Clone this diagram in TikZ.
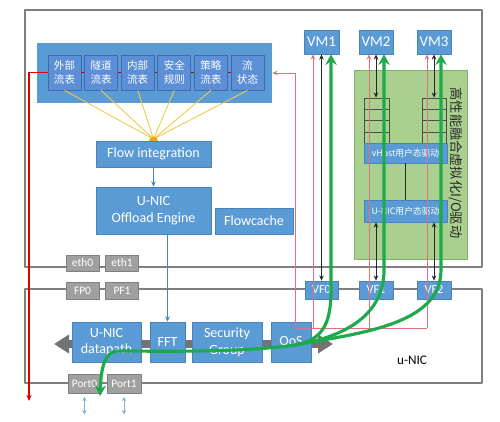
\documentclass[tikz,border=0pt]{standalone}
\usepackage{fontspec}
\setmainfont{Carlito}
\newfontfamily\cjk{Noto Sans CJK SC}
\usetikzlibrary{arrows.meta}
\definecolor{boxblue}{HTML}{5B9BD5}
\definecolor{boxedge}{HTML}{4A82BC}
\definecolor{tblblue}{HTML}{5C8FD6}
\definecolor{tbledge}{HTML}{3D6CAE}
\definecolor{grybox}{HTML}{A0A0A0}
\definecolor{gryedge}{HTML}{808080}
\definecolor{framegray}{HTML}{7F7F7F}
\definecolor{pinkline}{HTML}{E0707F}
\definecolor{darkred}{HTML}{C00000}
\definecolor{brightred}{HTML}{E00000}
\definecolor{flowgreen}{HTML}{1DAA4C}
\definecolor{vgreen}{HTML}{A9D08E}
\definecolor{vgreenedge}{HTML}{82B062}
\definecolor{raycol}{HTML}{F2C84B}
\definecolor{blobcol}{HTML}{F0A22A}
\begin{document}
\begin{tikzpicture}[x=0.02cm,y=-0.02cm,>=Stealth, line join=round,
		font=\fontsize{8}{9.5}\selectfont,
		blk/.style={draw=boxedge, fill=boxblue, text=white, inner sep=0pt, align=center},
		tbl/.style={draw=tbledge, fill=tblblue, text=white, inner sep=0pt, align=center,
			minimum width=33*0.02cm, minimum height=35*0.02cm, font=\cjk\fontsize{6}{7.6}\selectfont},
		gry/.style={draw=gryedge, fill=grybox, text=white, inner sep=0pt, minimum width=33*0.02cm,
			font=\fontsize{6.5}{7}\selectfont},
		drv/.style={blk, minimum width=83*0.02cm, font=\cjk\fontsize{5}{6}\selectfont},
		queue/.style={draw=black!70, fill=vgreen, line width=0.4pt, inner sep=0pt},
		frame/.style={draw=framegray, line width=0.6pt},
		pink/.style={draw=pinkline, line width=0.5pt},
		blkarr/.style={draw=black!85, line width=0.5pt, {Stealth[length=3pt,width=2.6pt]}-{Stealth[length=3pt,width=2.6pt]}},
		thin/.style={draw=boxedge, line width=0.5pt, -{Stealth[length=3pt,width=2.6pt]}},
		flow/.style={draw=flowgreen, line width=1.8pt, line cap=round}
	]
	\useasboundingbox (0,0) rectangle (500,422);
	% host and u-NIC frames
	\draw[frame] (25,10) rectangle (482,267);
	\draw[frame] (25,289) rectangle (482,383);
	% pipeline arrow behind the boxes
	\coordinate (dl) at (54,344); \coordinate (dr) at (333,344);
	\draw[draw=black!55, line width=8*0.02cm, {Triangle[length=15*0.02cm,width=18*0.02cm]}-{Triangle[length=15*0.02cm,width=18*0.02cm]}] (dl) -- (dr);
	% flow tables
	\node[fill=boxblue, minimum width=235*0.02cm, minimum height=60*0.02cm] (tab) at (154.5,73) {};
	\foreach \i/\txt in {1/外部\\流表, 2/隧道\\流表, 3/内部\\流表, 4/安全\\规则, 5/策略\\流表, 6/流\\状态}
		\node[tbl] (t\i) at ({64.5+36.6*(\i-1)},72.5) {\txt};
	\foreach \i in {1,...,5}{
		\pgfmathtruncatemacro\j{\i+1}
		\draw[darkred, line width=0.6pt] (t\i) -- (t\j);
	}
	\coordinate (conv) at (153.5,139);
	\foreach \i in {1,...,6}
		\draw[raycol, line width=0.5pt] (t\i.south) -- (conv);
	\fill[blobcol] (153.5,141) circle (0.09cm);
	\node[blk, minimum width=115*0.02cm, minimum height=26*0.02cm] (fi) at (153.5,154) {Flow integration};
	\node[blk, minimum width=115*0.02cm, minimum height=47*0.02cm] (oe) at (153.5,210.5) {U-NIC\\Offload Engine};
	\node[blk, minimum width=78*0.02cm, minimum height=26*0.02cm] (fc) at (254,221) {Flowcache};
	% ports
	\node[gry, minimum height=16*0.02cm] (eth0) at (82.5,263) {eth0};
	\node[gry, minimum height=16*0.02cm] (eth1) at (122,263) {eth1};
	\node[gry, minimum height=17*0.02cm] (fp0) at (82.5,290.5) {FP0};
	\node[gry, minimum height=17*0.02cm] (pf1) at (122,290.5) {PF1};
	\node[gry, minimum height=19*0.02cm] (port0) at (84.5,383.5) {Port0};
	\node[gry, minimum height=19*0.02cm, minimum width=34*0.02cm] (port1) at (124,383.5) {Port1};
	\foreach \p in {port0,port1}
		\draw[draw=boxblue!80, line width=0.5pt, {Stealth[length=2.5pt,width=2.5pt]}-{Stealth[length=2.5pt,width=2.5pt]}]
			([yshift=-0.07cm]\p.south) -- ([yshift=-0.42cm]\p.south);
	% u-NIC pipeline
	\node[blk, minimum width=69*0.02cm, minimum height=40*0.02cm] (dp) at (106.5,342) {U-NIC\\datapath};
	\node[blk, minimum width=35*0.02cm, minimum height=40*0.02cm] (fft) at (167.5,342) {FFT};
	\node[blk, minimum width=70*0.02cm, minimum height=40*0.02cm] (sg) at (227,342) {Security\\Group};
	\node[blk, minimum width=40*0.02cm, minimum height=40*0.02cm] (qos) at (291,342) {QoS};
	\draw[thin] (fi) -- (oe);
	\draw[thin] (fft.north |- oe.south) -- (fft.north);
	\node[font=\fontsize{7.5}{9}\selectfont] (unic) at (412,360) {u-NIC};
	% VMs and VFs
	\node[blk, minimum width=35*0.02cm, minimum height=24*0.02cm, font=\fontsize{8.5}{10}\selectfont] (vm1) at (321.5,42) {VM1};
	\node[blk, minimum width=34*0.02cm, minimum height=24*0.02cm, font=\fontsize{8.5}{10}\selectfont] (vm2) at (376,42) {VM2};
	\node[blk, minimum width=34*0.02cm, minimum height=24*0.02cm, font=\fontsize{8.5}{10}\selectfont] (vm3) at (434,42) {VM3};
	\node[blk, minimum width=33*0.02cm, minimum height=18*0.02cm, font=\fontsize{7}{8}\selectfont] (vf0) at (321.5,290) {VF0};
	\node[blk, minimum width=34*0.02cm, minimum height=18*0.02cm, font=\fontsize{7}{8}\selectfont] (vf1) at (376,290) {VF1};
	\node[blk, minimum width=34*0.02cm, minimum height=18*0.02cm, font=\fontsize{7}{8}\selectfont] (vf2) at (434,290) {VF2};
	% virtual I/O driver
	\node[draw=vgreenedge, fill=vgreen, minimum width=113*0.02cm, minimum height=189*0.02cm] (vio) at (410.5,164.5) {};
	\node[rotate=-90, font=\cjk\fontsize{7.5}{9}\selectfont, text=black!85] (viotxt) at (456,163) {高性能融合虚拟化I/O驱动};
	\node[queue, minimum width=25*0.02cm, minimum height=45*0.02cm] (q1) at (376.5,120.5) {};
	\node[queue, minimum width=24*0.02cm, minimum height=45*0.02cm] (q2) at (434,120.5) {};
	\foreach \r in {109,120,132}{
		\draw[black!70, line width=0.4pt] (364,\r) -- (389,\r);
		\draw[black!70, line width=0.4pt] (422,\r) -- (446,\r);
	}
	\node[drv, minimum height=20*0.02cm] (vhost) at (405.5,153) {vHost用户态驱动};
	\node[drv, minimum height=22*0.02cm] (udrv) at (405.5,211) {U-NIC用户态驱动};
	\draw[black!85, line width=0.5pt] (vhost) -- (udrv);
	% red control lines
	\coordinate (b0) at (295,328); \coordinate (b1) at (313,328);
	\coordinate (b2) at (369,328); \coordinate (b3) at (427,328);
	\draw[pink] (b0) -- (b3);
	\draw[pink, -{Stealth[length=3pt,width=2.6pt]}] (b0) -- (b0 |- tab.east) -- (tab.east);
	\foreach \b/\v in {b1/vm1, b2/vm2, b3/vm3}
		\draw[pink, -{Stealth[length=3pt,width=2.6pt]}] (\b) -- (\b |- \v.south);
	\coordinate (rl) at (29,401);
	\draw[brightred, line width=0.6pt, -{Stealth[length=3.5pt,width=3pt]}] (t1.west) -- (rl |- t1.west) -- (rl);
	% data lines
	\draw[blkarr] (vm1) -- (vf0);
	\draw[blkarr] (vm2.south) -- (vm2.south |- q1.north);
	\draw[blkarr] (vm3.south) -- (vm3.south |- q2.north);
	\draw[blkarr] (vf1.north |- udrv.south) -- (vf1.north);
	\draw[blkarr] (vf2.north |- udrv.south) -- (vf2.north);
	% green flows
	\coordinate (g1) at (331,290); \coordinate (g2) at (384,270); \coordinate (g3) at (441,270);
	\coordinate (m) at (295,345); \coordinate (p0) at (100,396);
	\draw[flow, {Stealth[length=6pt,width=6.5pt]}-] (g1 |- vm1.south) -- (g1) .. controls (331,325) and (322,340) .. (m);
	\draw[flow, {Stealth[length=6pt,width=6.5pt]}-] (g2 |- vm2.south) -- (g2) .. controls (384,315) and (345,337) .. (m);
	\draw[flow, {Stealth[length=6pt,width=6.5pt]}-] (g3 |- vm3.south) -- (g3) .. controls (441,325) and (360,333) .. (m);
	\draw[flow, -{Stealth[length=6pt,width=6.5pt]}] (m) .. controls (240,353) and (150,351) .. (118,351) .. controls (104,351) and (101,370) .. (p0);
\end{tikzpicture}
\end{document}
